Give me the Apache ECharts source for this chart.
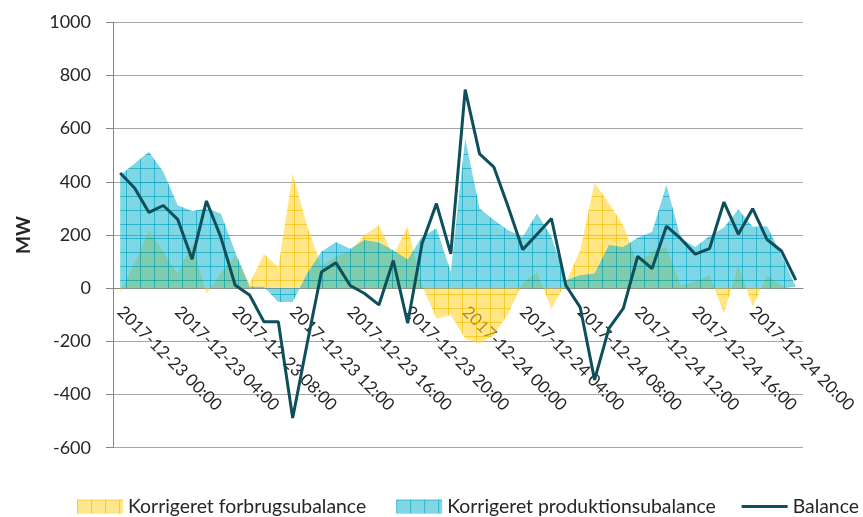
<!DOCTYPE html>
<html>
<head>
<meta charset="utf-8">
<script src="https://cdn.jsdelivr.net/npm/echarts@6/dist/echarts.min.js"></script>
<style>
  html, body { margin: 0; padding: 0; background: #fff; }
  #chart { width: 863px; height: 517px; }
</style>
</head>
<body>
<div id="chart"></div>
<script>
// timestamps, hourly over two days
const days = ['2017-12-23', '2017-12-24'];
const hours = ['00','01','02','03','04','05','06','07','08','09','10','11',
               '12','13','14','15','16','17','18','19','20','21','22','23'];
const categories = [];
days.forEach(d => hours.forEach(h => categories.push(d + ' ' + h + ':00')));

// MW values
const forbrug = [-15, 95, 217, 138, 54, 167, -21, 55, 123, 18, 129, 79,
                 430, 236, 82, 118, 140, 200, 237, 125, 231, 10, -114, -102,
                 -189, -208, -177, -95, 20, 60, -77, 20, 143, 396, 319, 237,
                 90, 140, 155, 10, 25, 49, -95, 87, -70, 49, 8, 5];
const produktion = [425, 469, 513, 438, 312, 290, 300, 281, 137, 5, 5, -52,
                    -52, 55, 137, 174, 148, 181, 172, 143, 108, 193, 225, 61,
                    563, 300, 256, 218, 193, 281, 193, 30, 49, 55, 162, 155,
                    190, 212, 388, 187, 155, 196, 228, 296, 231, 233, 125, 5];
const balance = [433, 377, 285, 311, 259, 109, 328, 192, 11, -26, -126, -126,
                 -488, -210, 61, 96, 10, -20, -63, 104, -132, 168, 318, 129,
                 747, 505, 455, 304, 145, 203, 262, 11, -72, -345, -151, -76,
                 120, 74, 233, 186, 128, 149, 324, 203, 299, 183, 140, 30];

const yMin = -600, yMax = 1000, yStep = 200;

const FONT = 'Lato';
const W = 863, H = 517;
const GRID = { left: 113, right: 60, top: 22.3, bottom: 69.3 };
// x axis sits on the zero line
const gridH = H - GRID.top - GRID.bottom;
const zeroOffset = -(0 - yMin) / (yMax - yMin) * gridH;

// grid hatch like the Excel fill
function hatch(base, dot, line) {
  const size = 14;
  const c = document.createElement('canvas');
  c.width = c.height = size;
  const g = c.getContext('2d');
  g.fillStyle = base;
  g.fillRect(0, 0, size, size);
  g.fillStyle = dot;
  for (let x = 0; x < size; x += 2) {
    for (let y = (x / 2) % 2 ? 1 : 0; y < size; y += 2) g.fillRect(x, y, 1, 1);
  }
  g.fillStyle = line;
  g.fillRect(0, 0, size, 1);
  g.fillRect(0, 0, 1, size);
  return { image: c, repeat: 'repeat' };
}

const yellowFill = hatch('rgba(255,214,60,0.58)', 'rgba(255,200,0,0.12)', 'rgba(240,190,0,0.65)');
const blueFill = hatch('rgba(20,180,205,0.52)', 'rgba(0,160,190,0.10)', 'rgba(0,160,190,0.65)');

const chart = echarts.init(document.getElementById('chart'));

const labelStyle = { fontFamily: FONT, fontSize: 17, color: '#262626' };
const legendText = { fontFamily: FONT, fontSize: 19.4, color: '#262626' };

chart.setOption({
  animation: false,
  grid: Object.assign({ containLabel: false, outerBoundsMode: 'none' }, GRID),
  legend: [
    {
      data: [
        { name: 'Korrigeret forbrugsubalance', icon: 'rect', itemStyle: { color: yellowFill, borderWidth: 0 } },
        { name: 'Korrigeret produktionsubalance', icon: 'rect', itemStyle: { color: blueFill, borderWidth: 0 } }
      ],
      left: 77, top: 497, padding: 0,
      itemWidth: 46, itemHeight: 14, itemGap: 30,
      textStyle: legendText
    },
    {
      data: [{ name: 'Balance', icon: 'rect', itemStyle: { color: '#0d4f5a' } }],
      right: 4, top: 497, padding: 0,
      itemWidth: 46, itemHeight: 3,
      textStyle: legendText
    }
  ],
  xAxis: {
    type: 'category',
    data: categories,
    boundaryGap: true,
    offset: zeroOffset,
    axisLine: { onZero: false, lineStyle: { color: '#868686', width: 1 } },
    axisTick: { interval: 0, length: 6, lineStyle: { color: '#868686' } },
    axisLabel: Object.assign({ interval: 3, rotate: -45, margin: 21 }, labelStyle),
    splitLine: { show: false }
  },
  yAxis: {
    type: 'value',
    min: yMin, max: yMax, interval: yStep,
    name: 'MW',
    nameLocation: 'middle',
    nameGap: 80,
    nameTextStyle: { fontFamily: FONT, fontSize: 19, fontWeight: 'bold', color: '#262626' },
    axisLine: { show: true, lineStyle: { color: '#868686', width: 1 } },
    axisTick: { show: true, length: 7, lineStyle: { color: '#868686' } },
    axisLabel: { margin: 22, fontSize: 18, fontFamily: FONT, color: '#262626', formatter: v => String(v) },
    splitLine: { lineStyle: { color: '#a6a6a6', width: 1 } }
  },
  series: [
    {
      name: 'Korrigeret forbrugsubalance',
      type: 'line',
      data: forbrug,
      symbol: 'none',
      itemStyle: { color: '#ffd84a' },
      lineStyle: { width: 0 },
      areaStyle: { color: yellowFill, opacity: 1 }
    },
    {
      name: 'Korrigeret produktionsubalance',
      type: 'line',
      data: produktion,
      symbol: 'none',
      itemStyle: { color: '#33b8cc' },
      lineStyle: { width: 0 },
      areaStyle: { color: blueFill, opacity: 1 }
    },
    {
      name: 'Balance',
      type: 'line',
      data: balance,
      symbol: 'none',
      itemStyle: { color: '#0d4f5a' },
      lineStyle: { color: '#0d4f5a', width: 3 }
    }
  ]
});
</script>
</body>
</html>
